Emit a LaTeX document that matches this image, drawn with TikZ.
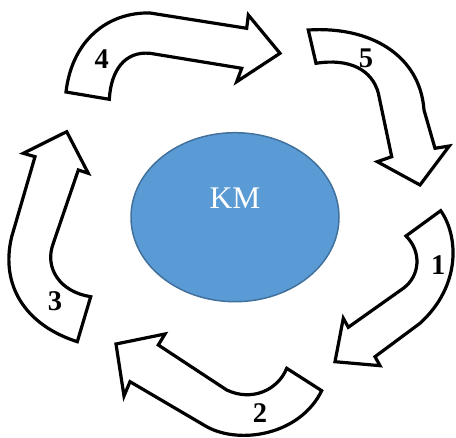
\documentclass[tikz,border=0pt]{standalone}
\usepackage{fontspec}
\setmainfont{Liberation Serif}
\definecolor{kmfill}{HTML}{5B9BD5}
\definecolor{kmline}{HTML}{41719C}
\begin{document}
\begin{tikzpicture}[x=1pt,y=-1pt,
  arrowshape/.style={draw=black,fill=white,line width=3.2pt,line join=miter},
  numlabel/.style={font=\fontsize{28.5}{28.5}\selectfont\bfseries,inner sep=0pt}]
\useasboundingbox (0,0) rectangle (456,438);
% centre ellipse
\fill[kmfill,draw=kmline,line width=1.5pt] (235,217.2) ellipse [x radius=104, y radius=84.5];
\node[font=\fontsize{31.5}{31.5}\selectfont,text=white,inner sep=0pt] (km) at (235,198) {KM};
% arrow 4
\draw[arrowshape] (66,92) .. controls (72,40) and (108,12) .. (150,13)
  -- (246.7,28.3) -- (248.3,15) -- (280,53.3) -- (236.7,81.7) -- (241.7,68.3)
  -- (150,53.3) .. controls (125,51) and (111,70) .. (109.3,99.3) -- cycle;
\node[numlabel] (n4) at (101.7,59.5) {4};
% arrow 5
\draw[arrowshape] (308.3,30) .. controls (370,26) and (420,55) .. (424,110)
  -- (435,148.3) -- (449.3,146) -- (420,185) -- (377.3,161.7) -- (391.7,156.7)
  -- (378.3,93) .. controls (372,70) and (350,58) .. (316,63.3) -- cycle;
\node[numlabel] (n5) at (366,58.3) {5};
% arrow 1
\draw[arrowshape] (440.7,210.7) .. controls (458,235) and (462,285) .. (420,323.3)
  -- (375,356.7) -- (380,365.7) -- (335,361.7) -- (343.3,318.3) -- (348.3,327.3)
  -- (403.3,288.3) .. controls (420,276) and (422,252) .. (406,236) -- cycle;
\node[numlabel] (n1) at (438.3,265) {1};
% arrow 2
\draw[arrowshape] (321.7,390.7) .. controls (300,435) and (240,445) .. (206.7,426.7)
  -- (130,381.7) -- (124,396) -- (116,344) -- (165,334) -- (158.3,345)
  -- (226.7,390) .. controls (252,402) and (278,390) .. (286.7,368.3) -- cycle;
\node[numlabel] (n2) at (260,413.3) {2};
% arrow 3
\draw[arrowshape] (77.3,341.7) .. controls (25,325) and (0,285) .. (11.7,236.7)
  -- (35,156.7) -- (23.3,153.3) -- (66.7,131.7) -- (88.3,173.3) -- (78.3,170)
  -- (53.3,243.3) .. controls (44,268) and (60,292) .. (90.7,296.7) -- cycle;
\node[numlabel] (n3) at (55,301.7) {3};
\end{tikzpicture}
\end{document}
